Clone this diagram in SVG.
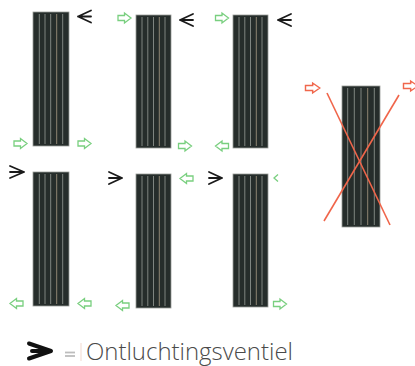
<svg xmlns="http://www.w3.org/2000/svg" width="415" height="366" viewBox="0 0 415 366">
<defs>
<style>
.panel{fill:#262d2b;stroke:#9a9c98;stroke-width:0.8}
.stripe{stroke:#7f8580;stroke-width:1}
.stripe2{stroke:#8e8472;stroke-width:1}
.garr{fill:#fff;stroke:#79cf7f;stroke-width:1.3;stroke-linejoin:miter}
.rarr{fill:#fff;stroke:#f0674c;stroke-width:1.3}
.vent{fill:none;stroke:#1a1a1a;stroke-width:1.8;stroke-linecap:round;stroke-linejoin:round}
.cross{stroke:#f0654a;stroke-width:1.6}
.lbl{font-family:"Open Sans","Liberation Sans",sans-serif;font-weight:300;font-size:24px;fill:#4a4a4a}
</style>
<path id="ar" d="M0,-2.5 H6.5 V-5 L13,0 L6.5,5 V2.5 H0 Z"/>
</defs>
<g id="panel1">
<rect class="panel" x="33" y="12" width="36" height="134"/>
<line class="stripe" x1="39.3" y1="14" x2="39.3" y2="144"/>
<line class="stripe" x1="45" y1="14" x2="45" y2="144"/>
<line class="stripe" x1="50.7" y1="14" x2="50.7" y2="144"/>
<line class="stripe2" x1="56.7" y1="14" x2="56.7" y2="144"/>
<line class="stripe" x1="62.7" y1="14" x2="62.7" y2="144"/>
<path class="vent" d="M91,10.5 L78,16.5 L91,22.5 M78,16.5 H91"/>
<use href="#ar" class="garr" transform="translate(14,143.5)"/>
<use href="#ar" class="garr" transform="translate(78,143.5)"/>
</g>
<g id="panel2">
<rect class="panel" x="136" y="15" width="35" height="133"/>
<line class="stripe" x1="142" y1="17" x2="142" y2="146"/>
<line class="stripe" x1="147.8" y1="17" x2="147.8" y2="146"/>
<line class="stripe" x1="153.5" y1="17" x2="153.5" y2="146"/>
<line class="stripe2" x1="159.3" y1="17" x2="159.3" y2="146"/>
<line class="stripe" x1="165" y1="17" x2="165" y2="146"/>
<use href="#ar" class="garr" transform="translate(118,18)"/>
<path class="vent" d="M193,14 L180,20 L193,26 M180,20 H193"/>
<use href="#ar" class="garr" transform="translate(178.5,146)"/>
</g>
<g id="panel3">
<rect class="panel" x="233" y="15" width="35" height="133"/>
<line class="stripe" x1="239" y1="17" x2="239" y2="146"/>
<line class="stripe" x1="244.8" y1="17" x2="244.8" y2="146"/>
<line class="stripe" x1="250.5" y1="17" x2="250.5" y2="146"/>
<line class="stripe2" x1="256.3" y1="17" x2="256.3" y2="146"/>
<line class="stripe" x1="262" y1="17" x2="262" y2="146"/>
<use href="#ar" class="garr" transform="translate(215.5,18)"/>
<path class="vent" d="M291,14 L278,20 L291,26 M278,20 H291"/>
<use href="#ar" class="garr" transform="translate(228.5,146) scale(-1,1)"/>
</g>
<g id="panel4">
<rect class="panel" x="33" y="172" width="36" height="134"/>
<line class="stripe" x1="39.3" y1="174" x2="39.3" y2="304"/>
<line class="stripe" x1="45" y1="174" x2="45" y2="304"/>
<line class="stripe" x1="50.7" y1="174" x2="50.7" y2="304"/>
<line class="stripe2" x1="56.7" y1="174" x2="56.7" y2="304"/>
<line class="stripe" x1="62.7" y1="174" x2="62.7" y2="304"/>
<path class="vent" d="M10,166 L24,172 L10,178 M10,172 H24"/>
<use href="#ar" class="garr" transform="translate(23,303.5) scale(-1,1)"/>
<use href="#ar" class="garr" transform="translate(91,303.5) scale(-1,1)"/>
</g>
<g id="panel5">
<rect class="panel" x="136" y="174" width="35" height="134"/>
<line class="stripe" x1="142" y1="176" x2="142" y2="306"/>
<line class="stripe" x1="147.8" y1="176" x2="147.8" y2="306"/>
<line class="stripe" x1="153.5" y1="176" x2="153.5" y2="306"/>
<line class="stripe2" x1="159.3" y1="176" x2="159.3" y2="306"/>
<line class="stripe" x1="165" y1="176" x2="165" y2="306"/>
<path class="vent" d="M109,172 L122,178 L109,184 M109,178 H122"/>
<use href="#ar" class="garr" transform="translate(193,178.5) scale(-1,1)"/>
<use href="#ar" class="garr" transform="translate(129,305.5) scale(-1,1)"/>
</g>
<g id="panel6">
<rect class="panel" x="233" y="174" width="35" height="133"/>
<line class="stripe" x1="239" y1="176" x2="239" y2="305"/>
<line class="stripe" x1="244.8" y1="176" x2="244.8" y2="305"/>
<line class="stripe" x1="250.5" y1="176" x2="250.5" y2="305"/>
<line class="stripe2" x1="256.3" y1="176" x2="256.3" y2="305"/>
<line class="stripe" x1="262" y1="176" x2="262" y2="305"/>
<path class="vent" d="M209,172 L222,178 L209,184 M209,178 H222"/>
<path class="garr" d="M278,174.5 L274,178 L278,181.5"/>
<use href="#ar" class="garr" transform="translate(273.5,304)"/>
</g>
<g id="panel7">
<rect class="panel" x="342" y="86" width="38" height="141"/>
<line class="stripe" x1="347.7" y1="88" x2="347.7" y2="225"/>
<line class="stripe" x1="354.3" y1="88" x2="354.3" y2="225"/>
<line class="stripe" x1="361" y1="88" x2="361" y2="225"/>
<line class="stripe2" x1="367.7" y1="88" x2="367.7" y2="225"/>
<line class="stripe" x1="374.3" y1="88" x2="374.3" y2="225"/>
<use href="#ar" class="rarr" transform="translate(305.5,88) scale(1.1,1)"/>
<use href="#ar" class="rarr" transform="translate(403.5,86) scale(1.1,1)"/>
</g>
<g id="connectors">
<line class="cross" x1="327" y1="93" x2="390" y2="225"/>
<line class="cross" x1="399" y1="95" x2="324" y2="221"/>
</g>
<g id="legend">
<path d="M29,343.5 L51,351 L29,358.5 M32,351 H49" fill="none" stroke="#111" stroke-width="4" stroke-linejoin="round" stroke-linecap="round"/>
<line x1="65" y1="352.5" x2="75" y2="352.5" stroke="#bdbdbd" stroke-width="1.8"/>
<line x1="65" y1="356" x2="75" y2="356" stroke="#bdbdbd" stroke-width="1.8"/>
<line x1="81" y1="343" x2="81" y2="361" stroke="#f2d9cf" stroke-width="1"/>
<text class="lbl" x="86" y="359.5" textLength="207" lengthAdjust="spacingAndGlyphs">Ontluchtingsventiel</text>
</g>
</svg>
